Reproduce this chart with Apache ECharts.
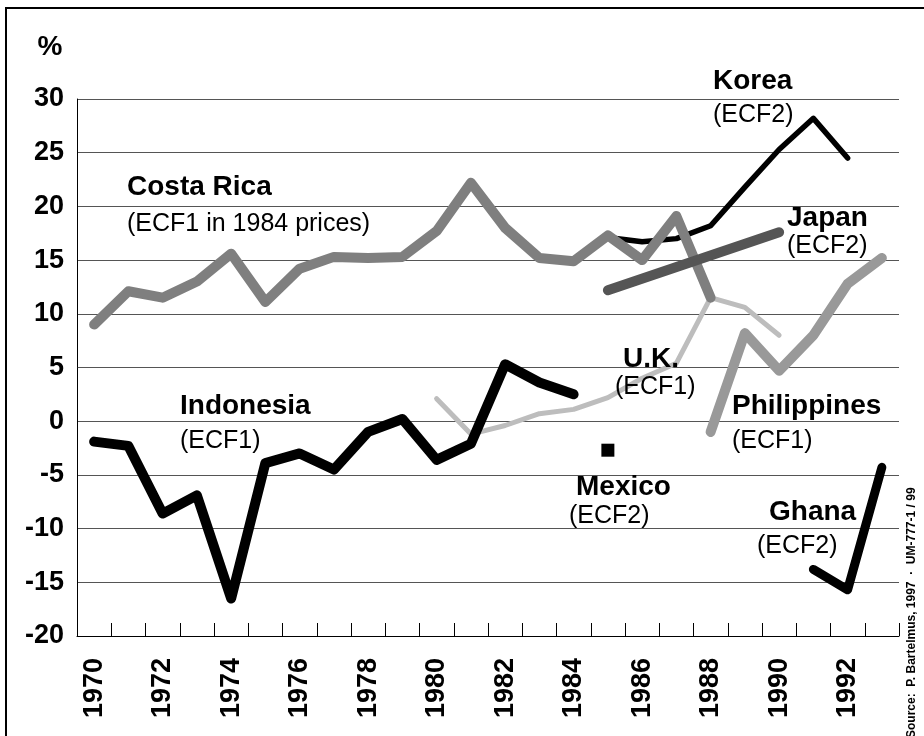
<!DOCTYPE html>
<html>
<head>
<meta charset="utf-8">
<script src="https://cdn.jsdelivr.net/npm/echarts@6/dist/echarts.min.js"></script>
<style>
  html, body { margin: 0; padding: 0; background: #fff; }
  #chart { width: 924px; height: 736px; }
</style>
</head>
<body>
<div id="chart"></div>
<script>
// years on the x axis
const years = ['1970', '1971', '1972', '1973', '1974', '1975', '1976', '1977', '1978', '1979', '1980', '1981',
  '1982', '1983', '1984', '1985', '1986', '1987', '1988', '1989', '1990', '1991', '1992', '1993'];
const yTicks = [-20, -15, -10, -5, 0, 5, 10, 15, 20, 25, 30];

// series values (%), null where no data
const costaRica = [9.0, 12.1, 11.5, 13.0, 15.6, 11.1, 14.2, 15.3, 15.2, 15.3, 17.7, 22.2,
  18.0, 15.2, 14.9, 17.3, 15.0, 19.1, 11.5, null, null, null, null, null];
const indonesia = [-1.9, -2.3, -8.6, -6.9, -16.5, -3.9, -3.0, -4.5, -1.0, 0.2, -3.6, -2.1,
  5.3, 3.6, 2.5, null, null, null, null, null, null, null, null, null];
const uk = [null, null, null, null, null, null, null, null, null, null, 2.1, -1.2,
  -0.4, 0.7, 1.1, 2.2, 4.0, 5.4, 11.5, 10.6, 8.0, null, null, null];
const korea = [null, null, null, null, null, null, null, null, null, null, null, null,
  null, null, null, 17.1, 16.7, 17.0, 18.2, 21.8, 25.3, 28.2, 24.5, null];
const japan = [null, null, null, null, null, null, null, null, null, null, null, null,
  null, null, null, 12.2, null, null, null, null, 17.6, null, null, null];
const philippines = [null, null, null, null, null, null, null, null, null, null, null, null,
  null, null, null, null, null, null, -1.0, 8.2, 4.7, 8.0, 12.8, 15.2];
const ghana = [null, null, null, null, null, null, null, null, null, null, null, null,
  null, null, null, null, null, null, null, null, null, -13.8, -15.7, -4.3];
const mexico = [['1985', -2.7]];

const FONT = '"Liberation Sans", Arial, sans-serif';

const chart = echarts.init(document.getElementById('chart'));

// text labels beside the lines
function label(text, x, y, bold) {
  return {
    type: 'text',
    z: 100,
    style: {
      text: text,
      x: x,
      y: y,
      fill: '#000',
      font: (bold ? 'bold 28px ' : '25px ') + FONT,
      textAlign: 'left',
      textVerticalAlign: 'middle'
    }
  };
}

function lineSeries(name, data, color, width, z) {
  return {
    name: name,
    type: 'line',
    data: data,
    z: z,
    symbol: 'none',
    connectNulls: name === 'Japan',
    lineStyle: { color: color, width: width, cap: 'round', join: 'round' },
    emphasis: { disabled: true }
  };
}

const option = {
  animation: false,
  grid: { left: 77, right: 25, top: 99, bottom: 100 },
  xAxis: {
    type: 'category',
    data: years,
    boundaryGap: true,
    axisLine: { onZero: false, lineStyle: { color: '#000', width: 1 } },
    axisTick: { show: true, inside: true, length: 13, interval: 0, lineStyle: { color: '#000' } },
    axisLabel: {
      interval: 1,
      rotate: 90,
      margin: 22,
      color: '#000',
      fontFamily: FONT,
      fontWeight: 'bold',
      fontSize: 27
    },
    splitLine: { show: false }
  },
  yAxis: {
    type: 'value',
    min: yTicks[0],
    max: yTicks[yTicks.length - 1],
    interval: 5,
    axisLine: { show: true, lineStyle: { color: '#000', width: 1 } },
    axisTick: { show: false },
    axisLabel: {
      margin: 13,
      color: '#000',
      fontFamily: FONT,
      fontWeight: 'bold',
      fontSize: 27
    },
    splitLine: { lineStyle: { color: '#555', width: 1 } }
  },
  series: [
    lineSeries('Korea', korea, '#000', 5.5, 2),
    lineSeries('UK', uk, '#bdbdbd', 5, 3),
    lineSeries('Costa Rica', costaRica, '#7f7f7f', 10, 4),
    lineSeries('Japan', japan, '#555', 10, 5),
    lineSeries('Philippines', philippines, '#999', 10, 5),
    lineSeries('Indonesia', indonesia, '#000', 10, 6),
    lineSeries('Ghana', ghana, '#000', 9, 6),
    {
      name: 'Mexico',
      type: 'scatter',
      data: mexico,
      symbol: 'rect',
      symbolSize: 13,
      itemStyle: { color: '#000', opacity: 1 },
      emphasis: { disabled: true },
      z: 7
    }
  ],
  graphic: [
    {
      type: 'rect',
      silent: true,
      shape: { x: 6, y: 8, width: 1000, height: 1000 },
      style: { fill: 'none', stroke: '#000', lineWidth: 2 }
    },
    {
      type: 'text',
      style: { text: '%', x: 50, y: 47, fill: '#000', font: 'bold 28px ' + FONT, textAlign: 'center', textVerticalAlign: 'middle' }
    },
    label('Costa Rica', 127, 187, true),
    label('(ECF1 in 1984 prices)', 127, 224, false),
    label('Korea', 713, 81, true),
    label('(ECF2)', 713, 115, false),
    label('Japan', 787, 218, true),
    label('(ECF2)', 787, 246, false),
    label('U.K.', 623, 359, true),
    label('(ECF1)', 615, 387, false),
    label('Indonesia', 180, 406, true),
    label('(ECF1)', 180, 441, false),
    label('Philippines', 732, 406, true),
    label('(ECF1)', 732, 441, false),
    label('Mexico', 576, 487, true),
    label('(ECF2)', 569, 516, false),
    label('Ghana', 769, 512, true),
    label('(ECF2)', 757, 546, false),
    {
      type: 'text',
      x: 912,
      y: 738,
      rotation: Math.PI / 2,
      style: {
        text: 'Source:  P. Bartelmus, 1997  \u00b7  UM-777-1 / 99',
        x: 0,
        y: 0,
        fill: '#000',
        font: 'bold 12px ' + FONT,
        textAlign: 'left',
        textVerticalAlign: 'middle'
      }
    }
  ]
};

chart.setOption(option);
</script>
</body>
</html>
